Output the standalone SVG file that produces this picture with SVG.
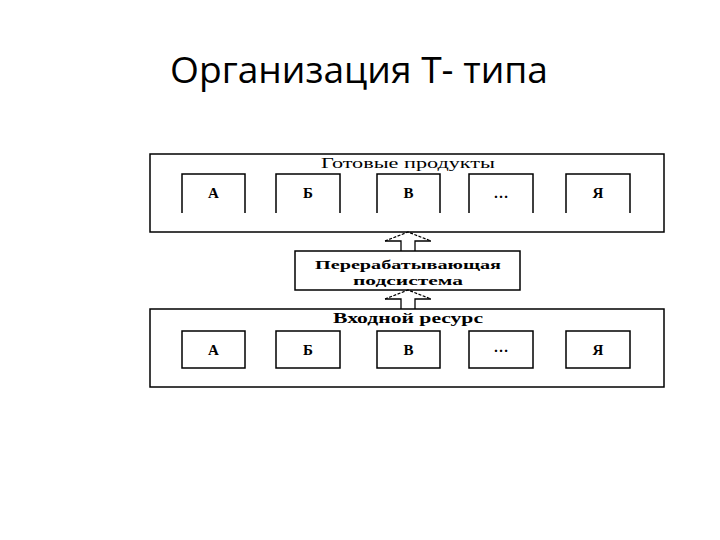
<svg xmlns="http://www.w3.org/2000/svg" width="720" height="540" viewBox="0 0 720 540">
<style>
.frame{fill:none;stroke:#000;stroke-width:1.5}
.box{fill:none;stroke:#000;stroke-width:1.5}
.lbl{font-family:"Liberation Serif",serif;font-size:15px;text-anchor:middle;fill:#000}
.mid{font-family:"Liberation Serif",serif;font-size:13.5px;font-weight:bold;text-anchor:middle;fill:#000}
.let{font-family:"Liberation Serif",serif;font-size:15px;font-weight:bold;text-anchor:middle;fill:#000}
.title{font-family:"Open Sans","Liberation Sans",sans-serif;font-size:36px;fill:#000}
.head{fill:none;stroke:#000;stroke-width:1.2;stroke-dasharray:3 1.5}
.shaft{fill:none;stroke:#000;stroke-width:1.3}
</style>
<rect width="720" height="540" fill="#fff"/>
<text class="title" x="170" y="83" textLength="378" lengthAdjust="spacingAndGlyphs">Организация Т- типа</text>

<g id="top-group">
  <rect class="frame" x="150" y="154" width="514" height="78"/>
  <text class="lbl" x="408" y="168" textLength="174" lengthAdjust="spacingAndGlyphs">Готовые продукты</text>
</g>
<g id="top-A"><path class="box" d="M182,213 V174 H245 V213"/><text class="let" x="213.5" y="198">А</text></g>
<g id="top-B"><path class="box" d="M276,213 V174 H340 V213"/><text class="let" x="308" y="198">Б</text></g>
<g id="top-V"><path class="box" d="M377,213 V174 H440 V213"/><text class="let" x="408.5" y="198">В</text></g>
<g id="top-dots"><path class="box" d="M469,213 V174 H533 V213"/><text class="let" x="501" y="198" font-weight="normal">…</text></g>
<g id="top-Ya"><path class="box" d="M566,213 V174 H630 V213"/><text class="let" x="598" y="198">Я</text></g>

<g id="processing">
  <rect class="frame" x="295" y="251" width="225" height="39"/>
  <text class="mid" x="408" y="269" textLength="186" lengthAdjust="spacingAndGlyphs">Перерабатывающая</text>
  <text class="mid" x="408" y="285" textLength="110" lengthAdjust="spacingAndGlyphs">подсистема</text>
</g>

<g id="bottom-group">
  <rect class="frame" x="150" y="309" width="514" height="78"/>
  <text class="lbl" x="408" y="323" font-weight="bold" textLength="150" lengthAdjust="spacingAndGlyphs">Входной ресурс</text>
</g>
<g id="bot-A"><rect class="box" x="182" y="331" width="63" height="37"/><text class="let" x="213.5" y="355" font-weight="normal">А</text></g>
<g id="bot-B"><rect class="box" x="276" y="331" width="64" height="37"/><text class="let" x="308" y="355">Б</text></g>
<g id="bot-V"><rect class="box" x="377" y="331" width="63" height="37"/><text class="let" x="408.5" y="355">В</text></g>
<g id="bot-dots"><rect class="box" x="469" y="331" width="64" height="37"/><text class="let" x="501" y="352" font-weight="normal">…</text></g>
<g id="bot-Ya"><rect class="box" x="566" y="331" width="64" height="37"/><text class="let" x="598" y="355">Я</text></g>

<g id="connectors">
  <path class="head" d="M385,241 L408,232 L431,241"/>
  <path class="shaft" d="M385,241 H401 V251 M431,241 H415 V251"/>
  <path class="head" d="M385,299 L408,290 L431,299"/>
  <path class="shaft" d="M385,299 H401 V309 M431,299 H415 V309"/>
</g>
</svg>
